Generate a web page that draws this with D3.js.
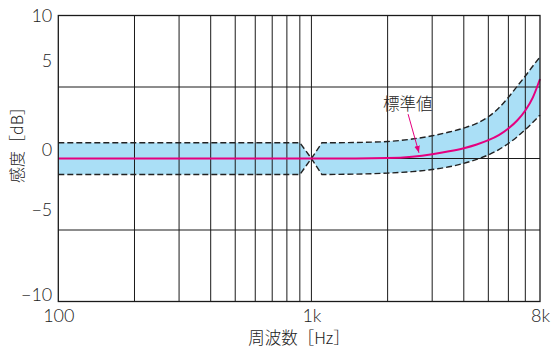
<!DOCTYPE html>
<html>
<head>
<meta charset="utf-8">
<script src="https://cdn.jsdelivr.net/npm/d3@7"></script>
<style>
  html, body { margin: 0; padding: 0; background: #fff; }
  svg { display: block; }
  .num { font-family: Lato, "Open Sans", "DejaVu Sans", sans-serif; font-weight: 300; fill: #222; }
  .cjk { font-family: "Noto Sans CJK JP", "Noto Sans", sans-serif; font-weight: 300; fill: #222; }
</style>
</head>
<body>
<script>
// ---- data ----
const freqHz      = [100, 900, 1000, 1100, 1500, 2000, 2500, 3000, 3500, 4000, 4500, 5000, 5500, 6000, 6500, 7000, 7500, 8000];
const upperDb     = [1.10, 1.10, 0, 1.10, 1.12, 1.19, 1.36, 1.59, 1.85, 2.13, 2.46, 2.92, 3.53, 4.28, 5.05, 5.77, 6.47, 7.10];
const standardDb  = [0, 0, 0, 0, 0, 0.03, 0.13, 0.30, 0.50, 0.72, 0.98, 1.28, 1.64, 2.10, 2.66, 3.36, 4.28, 5.56];
const lowerDb     = [-1.12, -1.12, 0, -1.12, -1.09, -1.02, -0.92, -0.77, -0.58, -0.34, -0.06, 0.25, 0.62, 1.05, 1.52, 2.02, 2.53, 3.04];

const xGridHz     = [200, 300, 400, 500, 600, 700, 800, 900, 1000, 2000, 3000, 4000, 5000, 6000, 7000];
const yGridDb     = [-5, 0, 5];
const xTickHz     = [100, 1000, 8000];
const xTickLabels = ["100", "1k", "8k"];
const yTickDb     = [10, 5, 0, -5, -10];
const yTickLabels = ["10", "5", "0", "\u22125", "\u221210"];

const xTitle = "周波数［Hz］";
const yTitle = "感度［dB］";
const noteText = "標準値";
const noteLabelAt = [2400, 3.85];   // [Hz, dB]
const noteArrowFrom = [2410, 3.1];
const noteArrowTo   = [2660, 0.4];

// ---- layout ----
const W = 551, H = 346;
const mLeft = 58.3, mRight = 540, mTop = 15.5, mBottom = 301.5;
const yLabelNudge = {"10": 0, "5": -26, "0": -8.5, "-5": -20, "-10": -6.5};
const PINCH_END = 3; // index where linear pinch section ends

const svg = d3.select("body").append("svg").attr("width", W).attr("height", H);

const x = d3.scaleLog().domain([100, 8000]).range([mLeft, mRight]);
const y = d3.scaleLinear().domain([-10, 10]).range([mBottom, mTop]);

const BLUE = "#aadff6", MAGENTA = "#e5007f";

function bandPath(vals, reverse) {
  const pts = freqHz.map((f, i) => [x(f), y(vals[i])]);
  let segs = [[pts.slice(0, PINCH_END + 1), d3.curveLinear], [pts.slice(PINCH_END), d3.curveMonotoneX]];
  if (reverse) segs = segs.reverse().map(([p, c]) => [p.slice().reverse(), c]);
  return segs.map(([p, c], k) => {
    const s = d3.line().curve(c)(p);
    return k ? s.replace(/^M/, "L") : s;
  }).join("");
}

// band fill
svg.append("path")
  .attr("d", bandPath(upperDb, false) + bandPath(lowerDb, true).replace(/^M/, "L") + "Z")
  .attr("fill", BLUE);

// grid
const g = svg.append("g").attr("stroke", "#1a1a1a").attr("stroke-width", 1);
g.selectAll("line.v").data(xGridHz).join("line").attr("class", "v")
  .attr("x1", d => x(d)).attr("x2", d => x(d)).attr("y1", mTop).attr("y2", mBottom);
g.selectAll("line.h").data(yGridDb).join("line").attr("class", "h")
  .attr("y1", d => y(d)).attr("y2", d => y(d)).attr("x1", mLeft).attr("x2", mRight);

// dashed limits
[upperDb, lowerDb].forEach(vals => {
  svg.append("path").attr("d", bandPath(vals, false))
    .attr("fill", "none").attr("stroke", "#222").attr("stroke-width", 1.4)
    .attr("stroke-dasharray", "6,3");
});

// standard curve
svg.append("path")
  .datum(freqHz.map((f, i) => [f, standardDb[i]]))
  .attr("d", d3.line().x(d => x(d[0])).y(d => y(d[1])).curve(d3.curveMonotoneX))
  .attr("fill", "none").attr("stroke", MAGENTA).attr("stroke-width", 2);

// frame
svg.append("rect").attr("x", mLeft).attr("y", mTop).attr("width", mRight - mLeft).attr("height", mBottom - mTop)
  .attr("fill", "none").attr("stroke", "#1a1a1a").attr("stroke-width", 1.3);

// axes labels
const ya = svg.append("g").attr("transform", `translate(${mLeft},0)`)
  .call(d3.axisLeft(y).tickValues(yTickDb).tickSize(0).tickPadding(6)
    .tickFormat(d => yTickLabels[yTickDb.indexOf(d)]));
ya.select(".domain").remove();
ya.attr("font-family", null).attr("font-size", null);
ya.selectAll("text").attr("class", "num").attr("font-size", 18)
  .attr("transform", d => `translate(0,${yLabelNudge[String(d)]})`);

const xa = svg.append("g").attr("transform", `translate(0,${mBottom})`)
  .call(d3.axisBottom(x).tickValues(xTickHz).tickSize(0).tickPadding(8)
    .tickFormat(d => xTickLabels[xTickHz.indexOf(d)]));
xa.select(".domain").remove();
xa.attr("font-family", null).attr("font-size", null);
xa.selectAll("text").attr("class", "num").attr("font-size", 18);

// titles
svg.append("text").attr("class", "cjk").attr("x", 299).attr("y", 343.5)
  .attr("text-anchor", "middle").attr("font-size", 16.5).text(xTitle);
svg.append("text").attr("class", "cjk")
  .attr("transform", "translate(15.5,141) rotate(-90)")
  .attr("text-anchor", "middle").attr("dominant-baseline", "central")
  .attr("font-size", 16).text(yTitle);

// annotation
const defs = svg.append("defs");
defs.append("marker").attr("id", "ah").attr("viewBox", "0 0 10 10").attr("refX", 10).attr("refY", 5)
  .attr("markerWidth", 7).attr("markerHeight", 7).attr("orient", "auto")
  .append("path").attr("d", "M0,1 L10,5 L0,9 Z").attr("fill", MAGENTA);
svg.append("line")
  .attr("x1", x(noteArrowFrom[0])).attr("y1", y(noteArrowFrom[1]))
  .attr("x2", x(noteArrowTo[0])).attr("y2", y(noteArrowTo[1]))
  .attr("stroke", MAGENTA).attr("stroke-width", 1).attr("marker-end", "url(#ah)");
svg.append("text").attr("class", "cjk")
  .attr("x", x(noteLabelAt[0])).attr("y", y(noteLabelAt[1]))
  .attr("text-anchor", "middle").attr("dominant-baseline", "central")
  .attr("font-size", 16.5).text(noteText);
</script>
</body>
</html>
